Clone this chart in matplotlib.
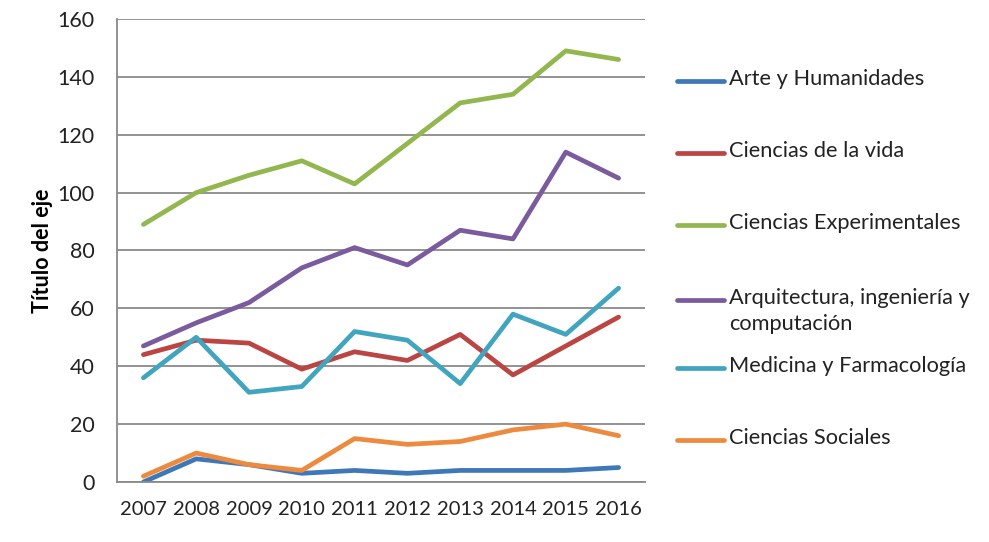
import matplotlib.pyplot as plt
from matplotlib.lines import Line2D

plt.rcParams['font.family'] = ['Lato', 'DejaVu Sans']

years = ['2007', '2008', '2009', '2010', '2011', '2012', '2013', '2014', '2015', '2016']

arte = [0, 8, 6, 3, 4, 3, 4, 4, 4, 5]
vida = [44, 49, 48, 39, 45, 42, 51, 37, 47, 57]
experimentales = [89, 100, 106, 111, 103, 117, 131, 134, 149, 146]
arquitectura = [47, 55, 62, 74, 81, 75, 87, 84, 114, 105]
medicina = [36, 50, 31, 33, 52, 49, 34, 58, 51, 67]
sociales = [2, 10, 6, 4, 15, 13, 14, 18, 20, 16]

labels = ['Arte y Humanidades', 'Ciencias de la vida', 'Ciencias Experimentales',
          'Arquitectura, ingeniería y\ncomputación', 'Medicina y Farmacología',
          'Ciencias Sociales']
colors = ['#3F78B8', '#BB4543', '#93B74F', '#7A5B9E', '#41A5BF', '#EE8A3E']
series = [arte, vida, experimentales, arquitectura, medicina, sociales]

W, H = 989, 542
fig = plt.figure(figsize=(W / 100, H / 100), dpi=100)
ax = fig.add_axes([117 / W, 1 - 482 / H, (645 - 117) / W, (482 - 19) / H])

x = range(len(years))
for vals, c in zip(series, colors):
    ax.plot(x, vals, color=c, lw=3.4, solid_capstyle='round', solid_joinstyle='round')

ax.set_xlim(-0.5, len(years) - 0.5)
ax.set_ylim(0, 160)
ax.set_yticks(range(0, 161, 20))
ax.set_xticks(list(x))
ax.set_xticklabels(years)
ax.yaxis.grid(True, color='#8a8a8a', lw=1.3)
ax.set_axisbelow(True)
for s in ['top', 'right']:
    ax.spines[s].set_visible(False)
ax.spines['left'].set_color('#8a8a8a')
ax.spines['bottom'].set_color('#8a8a8a')
ax.spines['left'].set_linewidth(1.3)
ax.spines['bottom'].set_linewidth(1.3)
ax.tick_params(axis='both', length=0, colors='#222222')
ax.tick_params(axis='y', pad=16, labelsize=15.5)
ax.tick_params(axis='x', pad=14, labelsize=14.5)
ax.set_ylabel('Título del eje', fontsize=15.5, fontweight='bold', labelpad=3)

# legend drawn by hand to match the uneven spacing
legend_y = [81, 153, 225, 300, 368, 440]
for lab, c, yp in zip(labels, colors, legend_y):
    yf = 1 - yp / H
    fig.add_artist(Line2D([677 / W, 724 / W], [yf, yf], color=c, lw=3.4,
                          solid_capstyle='round', transform=fig.transFigure))
    fig.text(729 / W, 1 - (yp - 12) / H, lab, fontsize=15.7, va='top', ha='left',
             color='#222222', linespacing=1.35)

fig.savefig('out.png', dpi=100)
